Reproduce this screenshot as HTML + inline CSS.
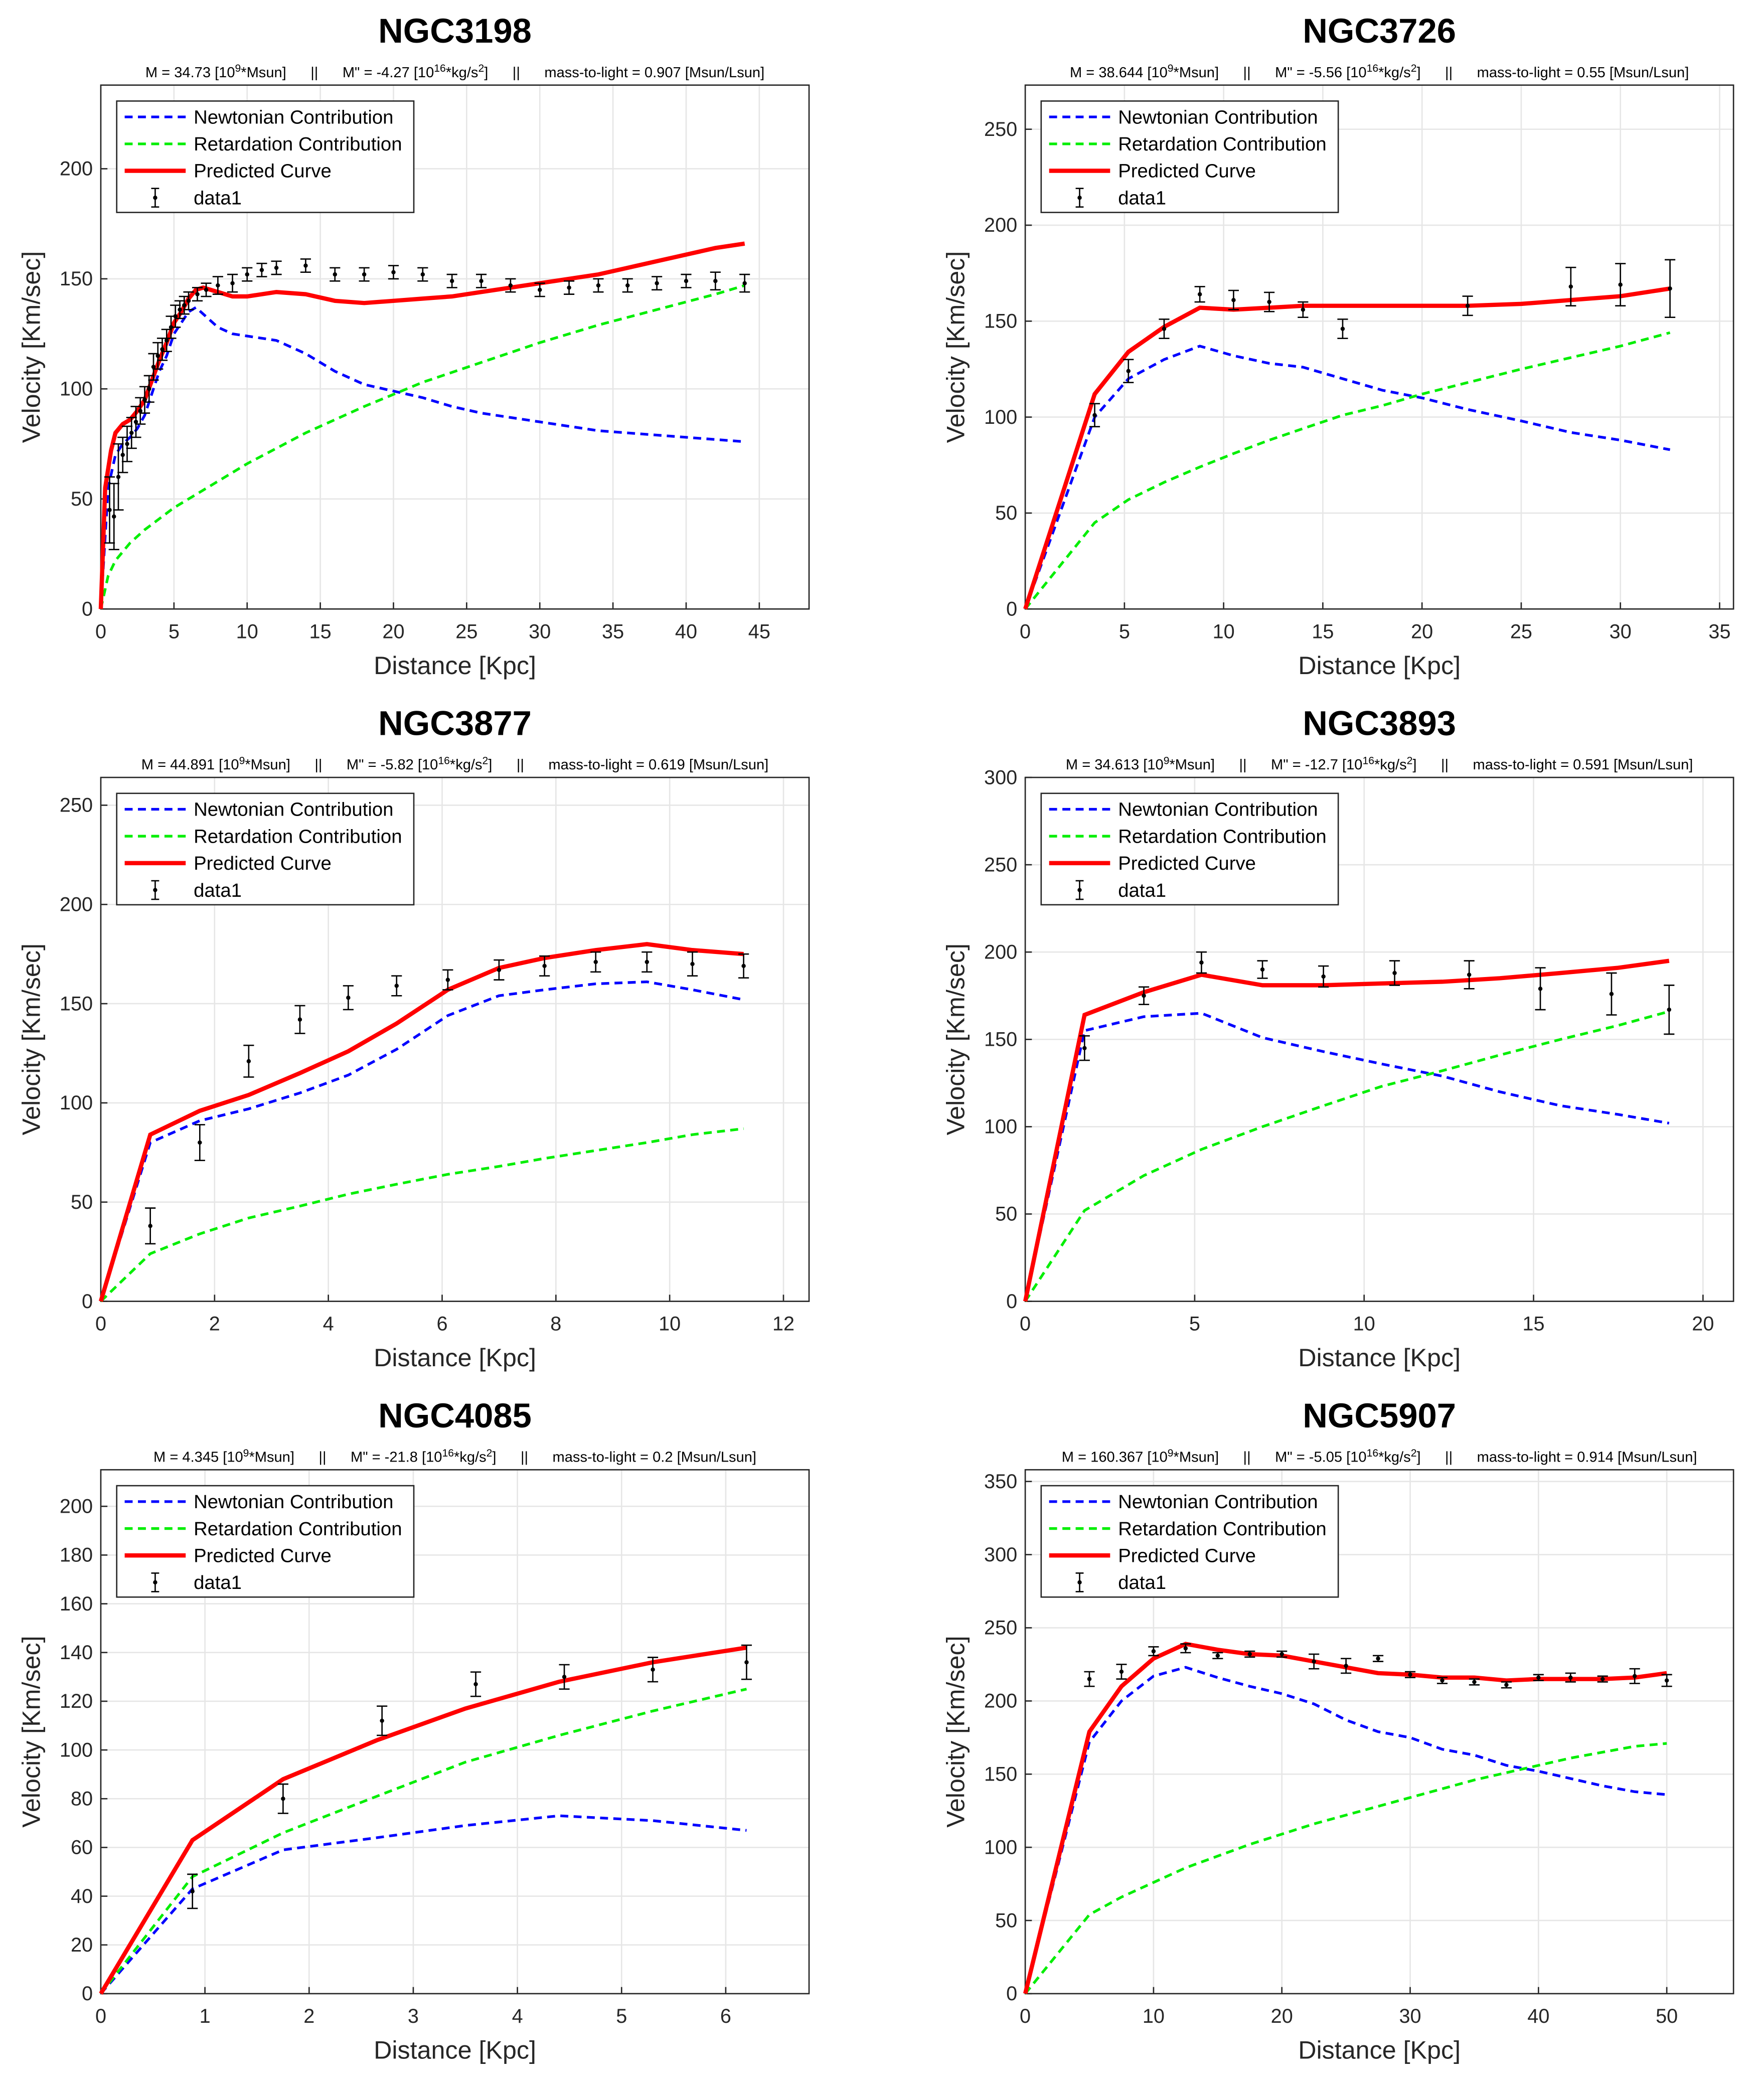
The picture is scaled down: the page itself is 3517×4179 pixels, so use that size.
<!DOCTYPE html>
<html><head><meta charset="utf-8"><style>
html,body{margin:0;padding:0;background:#fff}
svg{display:block;font-family:"Liberation Sans",Arial,sans-serif}
</style></head><body>
<svg id="fig" width="3517" height="4179" viewBox="0 0 1330 1580" xmlns="http://www.w3.org/2000/svg"></svg>
<script>
// ---- NGC3198 ----
const n3198Newton=[[0,0],[0.5,55],[1,70],[1.5,75],[2,78],[2.5,82],[3,88],[3.5,98],[4,108],[4.5,115],[5,125],[5.5,130],[6,135],[6.5,137],[7,134],[8,128],[9,125],[10,124],[12,122],[14,116],[16,108],[18,102],[20,99],[22,96],[24,92],[26,89],[28,87],[30,85],[32,83],[34,81],[36,80],[38,79],[40,78],[42,77],[44,76]];
const n3198Retard=[[0,0],[0.5,15],[1,22],[2,30],[3,36],[5,46],[7,54],[10,66],[14,80],[18,92],[22,103],[26,112],[30,121],[34,129],[38,136],[42,143],[44,147]];
const n3198Pred=[[0,0],[0.3,55],[0.7,72],[1,80],[1.5,84],[2,86],[2.5,90],[3,95],[3.5,104],[4,113],[4.5,121],[5,130],[5.5,135],[6,141],[6.5,145],[7,146],[8,144],[9,142],[10,142],[12,144],[14,143],[16,140],[18,139],[20,140],[22,141],[24,142],[26,144],[28,146],[30,148],[32,150],[34,152],[36,155],[38,158],[40,161],[42,164],[44,166]];
const n3198Data=[[0.6,45,15],[0.9,42,15],[1.2,60,15],[1.5,70,8],[1.8,75,8],[2.1,80,7],[2.4,85,7],[2.7,90,6],[3,95,6],[3.3,100,6],[3.6,110,6],[3.9,115,6],[4.2,118,5],[4.5,122,5],[4.8,128,5],[5.1,133,5],[5.4,136,4],[5.7,138,4],[6,140,4],[6.6,143,3],[7.2,145,3],[8,147,4],[9,148,4],[10,152,3],[11,154,3],[12,155,3],[14,156,3],[16,152,3],[18,152,3],[20,153,3],[22,152,3],[24,149,3],[26,149,3],[28,147,3],[30,145,3],[32,146,3],[34,147,3],[36,147,3],[38,148,3],[40,149,3],[42,149,4],[44,148,4]];
const n3198XTicks=[0,5,10,15,20,25,30,35,40,45];
const n3198YTicks=[0,50,100,150,200];
// ---- NGC3726 ----
const n3726Newton=[[0,0],[3.5,100],[5.2,120],[7,130],[8.8,137],[10.5,132],[12.3,128],[14,126],[16,120],[18,114],[20,110],[22.3,104],[25,98],[27.5,92],[30,88],[32.5,83]];
const n3726Retard=[[0,0],[3.5,45],[5.2,57],[7,66],[8.8,74],[10.5,81],[12.3,88],[14,94],[16,101],[18,106],[20,112],[22.3,118],[25,125],[27.5,131],[30,137],[32.5,144]];
const n3726Pred=[[0,0],[3.5,112],[5.2,134],[7,147],[8.8,157],[10.5,156],[12.3,157],[14,158],[16,158],[20,158],[22.3,158],[25,159],[27.5,161],[30,163],[32.5,167]];
const n3726Data=[[3.5,101,6],[5.2,124,6],[7,146,5],[8.8,164,4],[10.5,161,5],[12.3,160,5],[14,156,4],[16,146,5],[22.3,158,5],[27.5,168,10],[30,169,11],[32.5,167,15]];
const n3726XTicks=[0,5,10,15,20,25,30,35];
const n3726YTicks=[0,50,100,150,200,250];
// ---- NGC3877 ----
const n3877Newton=[[0,0],[0.87,80],[1.74,91],[2.6,97],[3.5,105],[4.35,114],[5.2,127],[6.1,144],[7,154],[7.8,157],[8.7,160],[9.6,161],[10.4,157],[11.3,152]];
const n3877Retard=[[0,0],[0.87,24],[1.74,34],[2.6,42],[3.5,48],[4.35,54],[5.2,59],[6.1,64],[7,68],[7.8,72],[8.7,76],[9.6,80],[10.4,84],[11.3,87]];
const n3877Pred=[[0,0],[0.87,84],[1.74,96],[2.6,104],[3.5,115],[4.35,126],[5.2,140],[6.1,157],[7,168],[7.8,173],[8.7,177],[9.6,180],[10.4,177],[11.3,175]];
const n3877Data=[[0.87,38,9],[1.74,80,9],[2.6,121,8],[3.5,142,7],[4.35,153,6],[5.2,159,5],[6.1,162,5],[7,167,5],[7.8,169,5],[8.7,171,5],[9.6,171,5],[10.4,170,6],[11.3,169,6]];
const n3877XTicks=[0,2,4,6,8,10,12];
const n3877YTicks=[0,50,100,150,200,250];
// ---- NGC3893 ----
const n3893Newton=[[0,0],[1.75,155],[3.5,163],[5.2,165],[7,151],[8.8,143],[10.5,136],[12.3,129],[14,120],[15.8,112],[17.5,107],[19,102]];
const n3893Retard=[[0,0],[1.75,52],[3.5,72],[5.2,87],[7,100],[8.8,112],[10.5,123],[12.3,132],[14,141],[15.8,150],[17.5,158],[19,166]];
const n3893Pred=[[0,0],[1.75,164],[3.5,177],[5.2,187],[7,181],[8.8,181],[10.5,182],[12.3,183],[14,185],[15.8,188],[17.5,191],[19,195]];
const n3893Data=[[1.75,145,7],[3.5,175,5],[5.2,194,6],[7,190,5],[8.8,186,6],[10.9,188,7],[13.1,187,8],[15.2,179,12],[17.3,176,12],[19,167,14]];
const n3893XTicks=[0,5,10,15,20];
const n3893YTicks=[0,50,100,150,200,250,300];
// ---- NGC4085 ----
const n4085Newton=[[0,0],[0.88,43],[1.75,59],[2.65,64],[3.5,69],[4.4,73],[5.3,71],[6.2,67]];
const n4085Retard=[[0,0],[0.88,48],[1.75,66],[2.65,81],[3.5,95],[4.4,106],[5.3,116],[6.2,125]];
const n4085Pred=[[0,0],[0.88,63],[1.75,88],[2.65,104],[3.5,117],[4.4,128],[5.3,136],[6.2,142]];
const n4085Data=[[0.88,42,7],[1.75,80,6],[2.7,112,6],[3.6,127,5],[4.45,130,5],[5.3,133,5],[6.2,136,7]];
const n4085XTicks=[0,1,2,3,4,5,6];
const n4085YTicks=[0,20,40,60,80,100,120,140,160,180,200];
// ---- NGC5907 ----
const n5907Newton=[[0,0],[5,172],[7.5,200],[10,217],[12.5,223],[15,216],[17.5,210],[20,205],[22.5,198],[25,187],[27.5,179],[30,175],[32.5,167],[35,163],[37.5,156],[40,152],[42.5,147],[45,142],[47.5,138],[50,136]];
const n5907Retard=[[0,0],[5,54],[7.5,66],[10,76],[12.5,86],[15,94],[17.5,102],[20,109],[22.5,116],[25,122],[27.5,128],[30,134],[32.5,140],[35,146],[37.5,151],[40,156],[42.5,161],[45,165],[47.5,169],[50,171]];
const n5907Pred=[[0,0],[5,179],[7.5,210],[10,229],[12.5,239],[15,235],[17.5,232],[20,231],[22.5,227],[25,223],[27.5,219],[30,218],[32.5,216],[35,216],[37.5,214],[40,215],[42.5,215],[45,215],[47.5,216],[50,219]];
const n5907Data=[[5,215,5],[7.5,220,5],[10,234,3],[12.5,236,3],[15,231,2],[17.5,232,2],[20,232,2],[22.5,227,5],[25,224,5],[27.5,229,2],[30,218,2],[32.5,214,2],[35,213,2],[37.5,211,2],[40,216,2],[42.5,216,3],[45,215,2],[47.5,217,5],[50,214,4]];
const n5907XTicks=[0,10,20,30,40,50];
const n5907YTicks=[0,50,100,150,200,250,300,350];

const NS="http://www.w3.org/2000/svg";
const svg=document.getElementById('fig');
function mk(tag,attrs,parent){const e=document.createElementNS(NS,tag);for(const k in attrs)e.setAttribute(k,attrs[k]);(parent||svg).appendChild(e);return e;}

const panels=[
 {name:'NGC3198',x:76,y:64,xmax:48.4,ymax:238,xt:n3198XTicks,yt:n3198YTicks,nw:n3198Newton,rt:n3198Retard,pr:n3198Pred,dt:n3198Data,M:'34.73',Mpp:'-4.27',ml:'0.907'},
 {name:'NGC3726',x:773,y:64,xmax:35.7,ymax:273,xt:n3726XTicks,yt:n3726YTicks,nw:n3726Newton,rt:n3726Retard,pr:n3726Pred,dt:n3726Data,M:'38.644',Mpp:'-5.56',ml:'0.55'},
 {name:'NGC3877',x:76,y:586,xmax:12.45,ymax:264,xt:n3877XTicks,yt:n3877YTicks,nw:n3877Newton,rt:n3877Retard,pr:n3877Pred,dt:n3877Data,M:'44.891',Mpp:'-5.82',ml:'0.619'},
 {name:'NGC3893',x:773,y:586,xmax:20.9,ymax:300,xt:n3893XTicks,yt:n3893YTicks,nw:n3893Newton,rt:n3893Retard,pr:n3893Pred,dt:n3893Data,M:'34.613',Mpp:'-12.7',ml:'0.591'},
 {name:'NGC4085',x:76,y:1108,xmax:6.8,ymax:215,xt:n4085XTicks,yt:n4085YTicks,nw:n4085Newton,rt:n4085Retard,pr:n4085Pred,dt:n4085Data,M:'4.345',Mpp:'-21.8',ml:'0.2'},
 {name:'NGC5907',x:773,y:1108,xmax:55.2,ymax:358,xt:n5907XTicks,yt:n5907YTicks,nw:n5907Newton,rt:n5907Retard,pr:n5907Pred,dt:n5907Data,M:'160.367',Mpp:'-5.05',ml:'0.914'}
];
const W=534,H=395;
panels.forEach(p=>{
 const g=mk('g',{});
 
 
 const sx=v=>p.x+v/p.xmax*W, sy=v=>p.y+H-v/p.ymax*H;
 const cx=p.x+W/2;
 const t=mk('text',{x:cx,y:p.y-32,'text-anchor':'middle','font-size':26,'font-weight':'bold'},g);t.textContent=p.name;
 
 const st=mk('text',{x:cx,y:p.y-6,'text-anchor':'middle','font-size':11},g);
 
 st.innerHTML='M = '+p.M+' [10<tspan dy="-4" font-size="8">9</tspan><tspan dy="4">*Msun]      ||      M" = '+p.Mpp+' [10</tspan><tspan dy="-4" font-size="8">16</tspan><tspan dy="4">*kg/s</tspan><tspan dy="-4" font-size="8">2</tspan><tspan dy="4">]      ||      mass-to-light = '+p.ml+' [Msun/Lsun]</tspan>';
 st.setAttribute('xml:space','preserve');st.style.whiteSpace='pre';
 mk('rect',{x:p.x,y:p.y,width:W,height:H,fill:'#fff'},g);
 p.xt.forEach(v=>{const X=sx(v);
  const l=mk('line',{x1:X,x2:X,y1:p.y,y2:p.y+H,stroke:'#e6e6e6','stroke-width':1},g);
  
  mk('line',{x1:X,x2:X,y1:p.y+H,y2:p.y+H-5,stroke:'#262626'},g);
  const tt=mk('text',{x:X,y:p.y+H+22,'text-anchor':'middle','font-size':15,fill:'#262626'},g);tt.textContent=v;
  });
 p.yt.forEach(v=>{const Y=sy(v);
  const l=mk('line',{x1:p.x,x2:p.x+W,y1:Y,y2:Y,stroke:'#e6e6e6','stroke-width':1},g);
  
  mk('line',{x1:p.x,x2:p.x+5,y1:Y,y2:Y,stroke:'#262626'},g);
  const tt=mk('text',{x:p.x-6,y:Y+5,'text-anchor':'end','font-size':15,fill:'#262626'},g);tt.textContent=v;
  });
 const fr=mk('rect',{x:p.x,y:p.y,width:W,height:H,fill:'none',stroke:'#262626','stroke-width':1},g);
 
 const xl=mk('text',{x:cx,y:p.y+H+49,'text-anchor':'middle','font-size':19,fill:'#262626'},g);xl.textContent='Distance  [Kpc]';
 
 const yx=p.x-46,yy=p.y+H/2;
 const yl=mk('text',{x:yx,y:yy,'text-anchor':'middle','font-size':19,fill:'#262626',transform:'rotate(-90 '+yx+' '+yy+')'},g);yl.textContent='Velocity  [Km/sec]';
 
 const line=(arr,col,dash,w,nm)=>{const e=mk('polyline',{points:arr.map(d=>sx(d[0])+','+sy(d[1])).join(' '),fill:'none',stroke:col,'stroke-width':w,'stroke-dasharray':dash},g);
  };
 line(p.nw,'#0000ff','6,4',2,'newtonian-contribution-line');
 line(p.rt,'#00ee00','6,4',2,'retardation-contribution-line');
 line(p.pr,'#ff0000','none',3.2,'predicted-curve-line');
 p.dt.forEach(d=>{const X=sx(d[0]),Y1=sy(d[1]-d[2]),Y2=sy(d[1]+d[2]);
  const e=mk('g',{},g);
  
  mk('line',{x1:X,x2:X,y1:Y1,y2:Y2,stroke:'#000','stroke-width':1},e);
  mk('line',{x1:X-4,x2:X+4,y1:Y1,y2:Y1,stroke:'#000','stroke-width':1},e);
  mk('line',{x1:X-4,x2:X+4,y1:Y2,y2:Y2,stroke:'#000','stroke-width':1},e);
  mk('circle',{cx:X,cy:sy(d[1]),r:1.6,fill:'#000'},e);});
 // legend
 const lg=mk('g',{},g);
 
 const lx=p.x+12,ly=p.y+12;
 mk('rect',{x:lx,y:ly,width:224,height:84,fill:'#fff',stroke:'#262626','stroke-width':1},lg);
 const items=[['Newtonian Contribution','#0000ff','6,4',2],['Retardation Contribution','#00ee00','6,4',2],['Predicted Curve','#ff0000','none',3.2],['data1',null]];
 items.forEach((it,i)=>{const Y=ly+12+i*20.3;
  const e=mk('g',{},lg);
  
  if(it[1])mk('line',{x1:lx+6,x2:lx+52,y1:Y,y2:Y,stroke:it[1],'stroke-width':it[3],'stroke-dasharray':it[2]},e);
  else{const X=lx+29;mk('line',{x1:X,x2:X,y1:Y-7,y2:Y+7,stroke:'#000'},e);mk('line',{x1:X-3,x2:X+3,y1:Y-7,y2:Y-7,stroke:'#000'},e);mk('line',{x1:X-3,x2:X+3,y1:Y+7,y2:Y+7,stroke:'#000'},e);mk('circle',{cx:X,cy:Y,r:1.6},e);}
  const tx=mk('text',{x:lx+58,y:Y+5,'font-size':14.5,fill:'#000'},e);tx.textContent=it[0];});
});
</script>
</body></html>
